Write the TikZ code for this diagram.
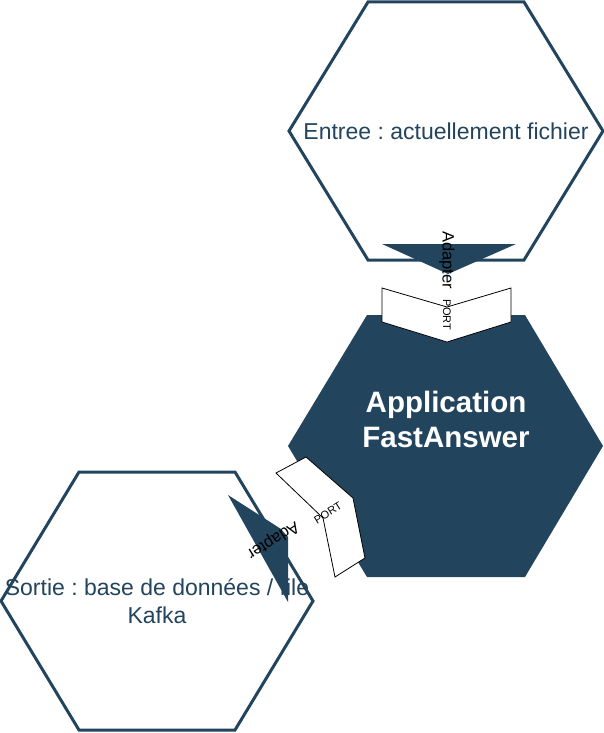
\documentclass[tikz,border=0pt]{standalone}
\usepackage{fontspec}
\setmainfont{Liberation Sans}
\usetikzlibrary{positioning}
\definecolor{bleunuit}{HTML}{23445D}
\frenchspacing

\begin{document}
\begin{tikzpicture}[
    x=1pt, y=-1pt,
    hexa/.style={draw=bleunuit, line width=3pt, line join=miter, fill=white},
    hexafonce/.style={fill=bleunuit},
    adapter/.style={fill=bleunuit},
    portbox/.style={draw=black, line width=0.8pt, fill=white, line join=miter},
    texte/.style={text=bleunuit, font=\fontsize{23}{28}\selectfont, align=center},
    titre/.style={text=white, font=\fontsize{29.5}{35}\selectfont\bfseries, align=center},
    adaptertxt/.style={text=black, inner sep=0pt, font=\fontsize{16.5}{18}\selectfont},
    porttxt/.style={text=black, inner sep=0pt, font=\fontsize{11}{12}\selectfont}
]
    \useasboundingbox (0,0) rectangle (604,733);

    % entree
    \draw[hexa, shift={(446,131)}] (-78,-129) -- (78,-129) -- (157,0) -- (78,129) -- (-78,129) -- (-157,0) -- cycle;
    \node[texte] (entree) at (446,131) {Entree : actuellement fichier};

    % application
    \fill[hexafonce, shift={(446,446)}] (-79,-131) -- (79,-131) -- (157,0) -- (79,131) -- (-79,131) -- (-158,0) -- cycle;
    \node[titre] (appli) at (446,419) {Application\\FastAnswer};

    % adapter + port en haut
    \fill[adapter] (382,244) -- (516,244) -- (448,274) -- cycle;
    \draw[portbox] (382,288) -- (447,307) -- (511,288) -- (511,322) -- (447,342) -- (382,322) -- cycle;
    \node[adaptertxt, rotate=-90] (adapterhaut) at (447,260) {Adapter};
    \node[porttxt, rotate=-90] (porthaut) at (447,315) {PORT};

    % sortie
    \draw[hexa, shift={(157,601)}] (-78,-129) -- (78,-129) -- (156,0) -- (78,129) -- (-78,129) -- (-156,0) -- cycle;
    \node[texte] (sortie) at (157,601) {Sortie : base de données / file\\Kafka};

    % adapter + port en bas
    \fill[adapter] (228,495) -- (281,529) -- (288,537) -- (288,602) -- cycle;
    \draw[portbox] (276,473) -- (306,457) -- (353,498) -- (365,558) -- (335,577) -- (323,518) -- cycle;
    \node[porttxt, rotate=32] (portbas) at (328,513) {PORT};
    \node[adaptertxt, rotate=212] (adapterbas) at (273,540) {Adapter};
\end{tikzpicture}
\end{document}
